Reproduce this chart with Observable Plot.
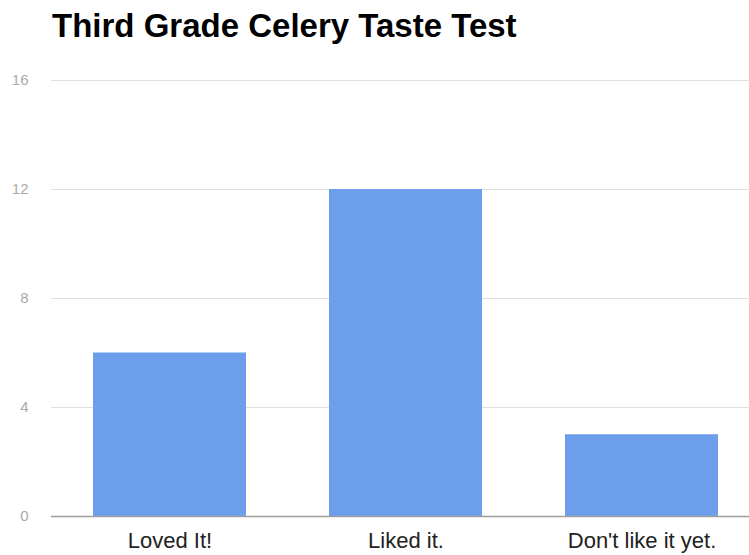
<!DOCTYPE html>
<html>
<head>
<meta charset="utf-8">
<script src="https://cdn.jsdelivr.net/npm/d3@7"></script>
<script src="https://cdn.jsdelivr.net/npm/@observablehq/plot@0.6"></script>
<style>
  body { margin: 0; background: #fff; font-family: "Liberation Sans", Arial, sans-serif; }
  #title { position: absolute; left: 52px; top: 9px; font-size: 33px; line-height: 1; font-weight: bold; color: #000; white-space: nowrap; }
  #chart { position: absolute; left: 0; top: 60px; }
</style>
</head>
<body>
<div id="title">Third Grade Celery Taste Test</div>
<div id="chart"></div>
<script>
const categories = ["Loved It!", "Liked it.", "Don't like it yet."];
const values = [6, 12, 3];
const yTicks = [0, 4, 8, 12, 16];

const data = categories.map((c, i) => ({category: c, value: values[i]}));

const chart = Plot.plot({
  width: 749,
  height: 495,
  marginTop: 20,
  marginBottom: 39,
  marginLeft: 51,
  marginRight: 0,
  style: {fontFamily: "'Liberation Sans', Arial, sans-serif", background: "#fff"},
  x: {domain: categories, range: [93, 718], paddingInner: 0.352, paddingOuter: 0, label: null},
  y: {domain: [0, 16], ticks: yTicks, label: null},
  marks: [
    Plot.gridY(yTicks.filter(d => d > 0), {stroke: "#e0e0e0", strokeOpacity: 1, strokeWidth: 1}),
    Plot.barY(data, {x: "category", y: "value", fill: "#6d9eeb"}),
    Plot.ruleY([0], {stroke: "#9e9e9e", strokeWidth: 1.3}),
    Plot.axisY({ticks: yTicks, tickSize: 0, tickPadding: 23, fill: "#aaaaaa", fontSize: 15, label: null}),
    Plot.axisX({tickSize: 0, tickPadding: 16, fill: "#222", fontSize: 22, label: null})
  ]
});
document.getElementById("chart").appendChild(chart);
</script>
</body>
</html>
